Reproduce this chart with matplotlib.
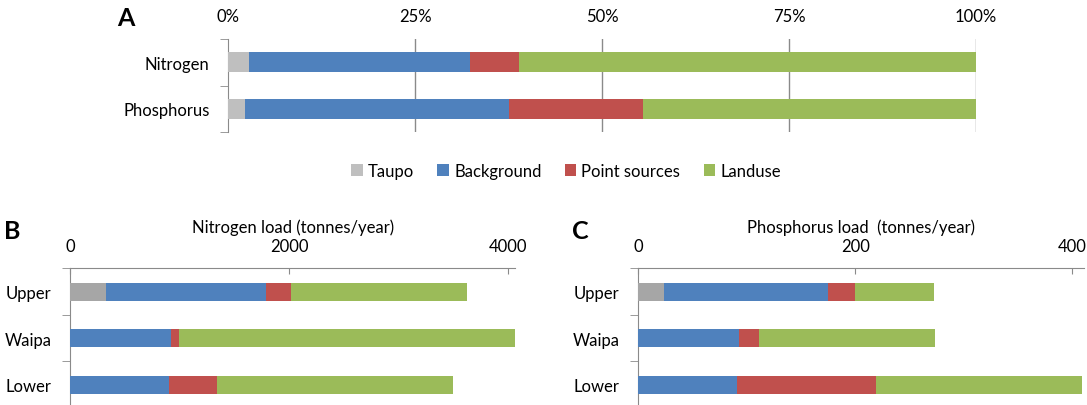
import matplotlib
matplotlib.use("Agg")
import matplotlib.pyplot as plt
from matplotlib.patches import Patch
import numpy as np

plt.rcParams['font.family'] = ['Lato', 'DejaVu Sans']

# ---------------- data ----------------
sources = ["Taupo", "Background", "Point sources", "Landuse"]

# Panel A: share of total load (%)
nutrients = ["Nitrogen", "Phosphorus"]
pct_taupo = [2.8, 2.3]
pct_background = [29.5, 35.2]
pct_point = [6.6, 18.0]
pct_landuse = [61.1, 44.5]

# Panel B: nitrogen load (tonnes/year)
reaches = ["Upper", "Waipa", "Lower"]
n_taupo = [330, 0, 0]
n_background = [1456, 920, 904]
n_point = [226, 70, 435]
n_landuse = [1613, 3079, 2156]

# Panel C: phosphorus load (tonnes/year)
p_taupo = [24, 0, 0]
p_background = [150.6, 93.1, 90.8]
p_point = [25.2, 18.1, 127.8]
p_landuse = [72.6, 162.2, 190.2]

a_ticks = [0, 25, 50, 75, 100]
a_ticklabels = ["0%", "25%", "50%", "75%", "100%"]
b_ticks = [0, 2000, 4000]
c_ticks = [0, 200, 400]

# ---------------- style ----------------
W, H = 1087, 406
DPI = 100
BLUE = "#4F81BD"
RED = "#C0504D"
GREEN = "#9BBB59"
GRAY_A = "#BFBFBF"
GRAY_BC = "#A6A6A6"
AXC = "#8A8A8A"
FS = 12

fig = plt.figure(figsize=(W / DPI, H / DPI), dpi=DPI)


def px_axes(left, top, right, bottom):
    return fig.add_axes([left / W, 1 - bottom / H, (right - left) / W, (bottom - top) / H])


def stacked(ax, cats, series, colors, height):
    y = np.arange(len(cats))
    left = np.zeros(len(cats))
    for vals, col in zip(series, colors):
        vals = np.asarray(vals, dtype=float)
        ax.barh(y, vals, left=left, height=height, color=col, edgecolor="none", zorder=3)
        left += vals
    ax.set_ylim(len(cats) - 0.5, -0.5)
    ax.set_yticks(y)
    ax.set_yticklabels(cats, fontsize=FS)
    ax.set_yticks(np.arange(len(cats) + 1) - 0.5, minor=True)
    ax.tick_params(axis="y", which="major", length=0, pad=13.5)
    ax.tick_params(axis="y", which="minor", length=6, color=AXC, direction="out")
    for s in ["right", "bottom"]:
        ax.spines[s].set_visible(False)
    ax.spines["left"].set_color(AXC)
    ax.xaxis.tick_top()


# ---------------- Panel A ----------------
axA = px_axes(228.3, 40, 976, 133)
stacked(axA, nutrients, [pct_taupo, pct_background, pct_point, pct_landuse],
        [GRAY_A, BLUE, RED, GREEN], 0.42)
axA.set_xlim(0, 100)
axA.set_xticks(a_ticks)
axA.set_xticklabels(a_ticklabels, fontsize=FS)
axA.tick_params(axis="x", length=0, pad=10.5)
axA.spines["top"].set_visible(False)
for t in a_ticks[1:]:
    axA.axvline(t, color=AXC, lw=1, zorder=1)
fig.text(126 / W, 1 - 19 / H, "A", fontsize=18, fontweight="bold", ha="center", va="center")

handles = [Patch(facecolor=c, edgecolor="none") for c in [GRAY_A, BLUE, RED, GREEN]]
fig.legend(handles, sources, loc="center", bbox_to_anchor=(566 / W, 1 - 172 / H),
           ncol=4, frameon=False, fontsize=FS, handlelength=0.7, handleheight=0.7,
           handletextpad=0.3, columnspacing=1.4)

# ---------------- Panel B ----------------
axB = px_axes(70.3, 269.3, 515.3, 409)
stacked(axB, reaches, [n_taupo, n_background, n_point, n_landuse],
        [GRAY_BC, BLUE, RED, GREEN], 0.39)
axB.set_xlim(0, 4065)
axB.set_xticks(b_ticks)
axB.set_xticklabels([str(t) for t in b_ticks], fontsize=FS)
axB.tick_params(axis="x", direction="in", length=4, color=AXC, pad=10)
axB.spines["top"].set_color(AXC)
axB.xaxis.set_label_position("top")
axB.set_xlabel("Nitrogen load (tonnes/year)", fontsize=FS, labelpad=4.5)
fig.text(12 / W, 1 - 232 / H, "B", fontsize=18, fontweight="bold", ha="center", va="center")

# ---------------- Panel C ----------------
axC = px_axes(638.3, 269.3, 1084.3, 409)
stacked(axC, reaches, [p_taupo, p_background, p_point, p_landuse],
        [GRAY_BC, BLUE, RED, GREEN], 0.39)
axC.set_xlim(0, 411)
axC.set_xticks(c_ticks)
axC.set_xticklabels([str(t) for t in c_ticks], fontsize=FS)
axC.tick_params(axis="x", direction="in", length=4, color=AXC, pad=10)
axC.spines["top"].set_color(AXC)
axC.xaxis.set_label_position("top")
axC.set_xlabel("Phosphorus load  (tonnes/year)", fontsize=FS, labelpad=4.5)
fig.text(580 / W, 1 - 232 / H, "C", fontsize=18, fontweight="bold", ha="center", va="center")

fig.savefig("out.png", dpi=DPI)
